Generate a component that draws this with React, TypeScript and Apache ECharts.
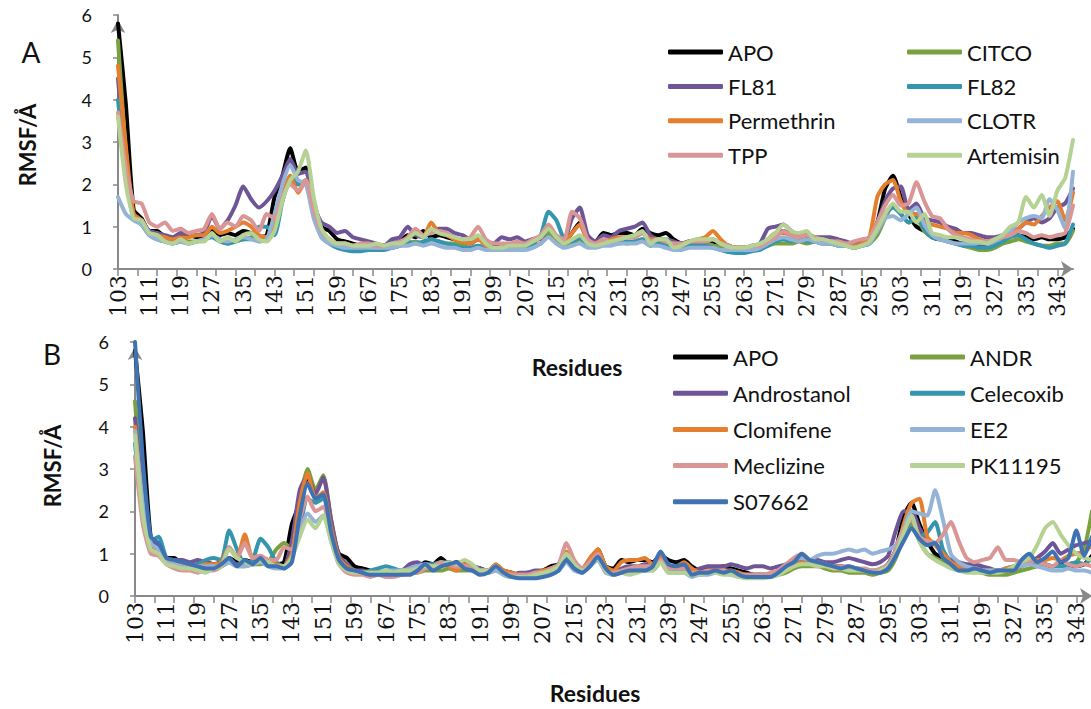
import React, { useEffect, useRef } from "react";
import * as echarts from "echarts";

// Residue range shown on both panels; RMSF is listed on every other residue.
const FIRST_RESIDUE = 103;
const LAST_RESIDUE = 347;
const SAMPLE_STEP = 2;

// ---------- Panel A : RMSF (Å) per sampled residue (103, 105, ... 347) ----------
const apo = [
  5.8, 3.9, 1.4, 1.2, 0.9, 0.9, 0.75, 0.7, 0.75, 0.8,
  0.75, 0.8, 0.9, 0.8, 0.85, 0.8, 0.9, 0.85, 0.75, 0.8,
  1.7, 2.2, 2.85, 2.3, 2.4, 1.6, 1.0, 0.9, 0.7, 0.65,
  0.6, 0.55, 0.55, 0.55, 0.55, 0.6, 0.65, 0.8, 0.75, 0.9,
  0.75, 0.8, 0.75, 0.7, 0.65, 0.6, 0.7, 0.6, 0.55, 0.5,
  0.55, 0.55, 0.6, 0.7, 0.75, 0.9, 0.7, 0.65, 0.85, 1.1,
  0.7, 0.65, 0.85, 0.8, 0.85, 0.85, 0.8, 0.95, 0.85, 0.8,
  0.85, 0.7, 0.6, 0.65, 0.65, 0.7, 0.65, 0.6, 0.55, 0.5,
  0.5, 0.5, 0.55, 0.65, 0.8, 0.9, 0.8, 0.75, 0.75, 0.7,
  0.7, 0.65, 0.6, 0.6, 0.55, 0.6, 0.75, 1.1, 1.9, 2.2,
  1.7, 1.3, 1.0, 0.9, 0.75, 0.7, 0.7, 0.65, 0.6, 0.6,
  0.55, 0.6, 0.65, 0.7, 0.8, 0.8, 0.75, 0.7, 0.75, 0.7,
  0.7, 0.75, 0.95,
];
const citco = [
  5.4, 2.8, 1.2, 1.1, 0.85, 0.75, 0.7, 0.65, 0.7, 0.65,
  0.65, 0.7, 0.8, 0.7, 0.6, 0.65, 0.7, 0.75, 0.65, 0.7,
  1.0, 1.6, 2.1, 2.0, 2.1, 1.4, 0.8, 0.65, 0.55, 0.5,
  0.5, 0.5, 0.5, 0.5, 0.5, 0.5, 0.55, 0.6, 0.65, 0.6,
  0.7, 0.65, 0.6, 0.6, 0.55, 0.5, 0.55, 0.5, 0.45, 0.45,
  0.45, 0.5, 0.5, 0.55, 0.6, 0.85, 0.65, 0.55, 0.6, 0.7,
  0.55, 0.55, 0.6, 0.6, 0.65, 0.6, 0.65, 0.7, 0.55, 0.65,
  0.55, 0.5, 0.5, 0.55, 0.6, 0.6, 0.55, 0.5, 0.45, 0.45,
  0.45, 0.5, 0.5, 0.55, 0.6, 0.6, 0.6, 0.65, 0.6, 0.65,
  0.6, 0.6, 0.55, 0.55, 0.5, 0.55, 0.6, 0.8, 1.2, 1.5,
  1.3, 1.1, 1.2, 0.9, 0.75, 0.7, 0.65, 0.6, 0.55, 0.5,
  0.45, 0.45, 0.5, 0.6, 0.65, 0.7, 0.65, 0.6, 0.55, 0.55,
  0.6, 0.6, 0.9,
];
const fl81 = [
  4.5, 2.5, 1.3, 1.15, 0.9, 0.85, 0.8, 0.75, 0.85, 0.85,
  0.8, 0.85, 1.25, 0.95, 1.15, 1.5, 1.95, 1.65, 1.45, 1.6,
  1.85, 2.2, 2.6, 2.25, 2.3, 1.5, 1.1, 1.0, 0.85, 0.9,
  0.75, 0.7, 0.65, 0.6, 0.55, 0.7, 0.75, 1.0, 0.8, 0.75,
  0.9, 0.95, 0.95, 0.85, 0.8, 0.7, 0.75, 0.65, 0.6, 0.75,
  0.7, 0.75, 0.65, 0.7, 0.7, 1.0, 0.75, 0.7, 1.2, 1.45,
  0.8, 0.65, 0.8, 0.75, 0.9, 0.95, 1.0, 1.1, 0.8, 0.7,
  0.7, 0.65, 0.6, 0.65, 0.65, 0.65, 0.7, 0.6, 0.55, 0.5,
  0.5, 0.55, 0.6, 0.95, 1.0, 1.05, 0.9, 0.8, 0.85, 0.75,
  0.75, 0.75, 0.7, 0.65, 0.6, 0.65, 0.7, 1.1, 1.6, 1.9,
  1.95, 1.4, 1.55, 1.2, 1.15, 1.1, 1.0, 0.95, 0.85, 0.85,
  0.8, 0.75, 0.75, 0.8, 0.85, 0.95, 1.1, 1.2, 1.1, 1.2,
  1.45, 1.55, 1.9,
];
const fl82 = [
  4.0, 2.2, 1.2, 1.05, 0.8, 0.7, 0.65, 0.6, 0.65, 0.6,
  0.65, 0.7, 0.75, 0.65, 0.6, 0.65, 0.7, 0.7, 1.0, 1.0,
  0.8, 1.6, 2.2, 2.0, 2.0, 1.3, 0.75, 0.6, 0.5, 0.45,
  0.42, 0.42, 0.45, 0.45, 0.45, 0.5, 0.55, 0.65, 0.6, 0.65,
  0.7, 0.65, 0.6, 0.55, 0.5, 0.5, 0.55, 0.5, 0.45, 0.45,
  0.45, 0.5, 0.5, 0.6, 0.8, 1.35, 1.15, 0.7, 0.65, 0.75,
  0.55, 0.55, 0.6, 0.6, 0.6, 0.65, 0.65, 0.7, 0.55, 0.6,
  0.55, 0.5, 0.5, 0.55, 0.55, 0.55, 0.5, 0.45, 0.4, 0.38,
  0.38, 0.42, 0.45, 0.55, 0.65, 0.7, 0.65, 0.7, 0.65, 0.65,
  0.6, 0.6, 0.55, 0.55, 0.5, 0.55, 0.6, 0.9, 1.3, 1.45,
  1.3, 1.1, 1.25, 0.95, 0.75, 0.7, 0.65, 0.6, 0.55, 0.55,
  0.5, 0.5, 0.55, 0.65, 0.75, 0.8, 0.7, 0.6, 0.55, 0.5,
  0.55, 0.6, 1.05,
];
const permethrin = [
  4.8, 2.9, 1.3, 1.15, 0.85, 0.8, 0.75, 0.7, 0.75, 0.75,
  0.8, 0.8, 1.0, 0.85, 0.9, 1.0, 1.1, 1.0, 0.8, 0.75,
  1.0, 1.7, 2.2, 1.8, 2.1, 1.4, 0.85, 0.7, 0.6, 0.6,
  0.55, 0.55, 0.55, 0.5, 0.5, 0.55, 0.6, 0.7, 0.9, 0.75,
  1.1, 0.85, 0.8, 0.7, 0.65, 0.6, 0.7, 0.55, 0.5, 0.5,
  0.55, 0.55, 0.6, 0.65, 0.75, 1.0, 0.75, 0.65, 0.85, 1.05,
  0.65, 0.6, 0.65, 0.7, 0.75, 0.75, 0.8, 0.85, 0.7, 0.7,
  0.65, 0.6, 0.55, 0.65, 0.7, 0.75, 0.9, 0.7, 0.55, 0.5,
  0.5, 0.5, 0.55, 0.7, 0.85, 0.85, 0.8, 0.75, 0.8, 0.7,
  0.7, 0.65, 0.65, 0.6, 0.55, 0.6, 0.75, 1.7, 2.0, 2.1,
  1.6, 1.3, 1.3, 1.1, 1.05, 1.0, 0.95, 0.85, 0.85, 0.8,
  0.7, 0.65, 0.7, 0.75, 0.85, 0.95, 1.1, 1.05, 1.25, 1.45,
  1.6, 1.15, 1.8,
];
const clotr = [
  1.7, 1.3, 1.15, 1.05, 0.8, 0.7, 0.65, 0.6, 0.65, 0.6,
  0.65, 0.7, 0.8, 0.7, 0.65, 0.7, 0.75, 0.7, 0.65, 0.7,
  1.3, 2.0, 2.45, 2.1, 2.0, 1.2, 0.75, 0.6, 0.55, 0.5,
  0.5, 0.5, 0.5, 0.5, 0.5, 0.5, 0.55, 0.55, 0.6, 0.55,
  0.6, 0.55, 0.5, 0.5, 0.45, 0.45, 0.5, 0.45, 0.45, 0.45,
  0.45, 0.45, 0.45, 0.5, 0.6, 0.75, 0.6, 0.5, 0.55, 0.6,
  0.5, 0.5, 0.55, 0.55, 0.6, 0.6, 0.6, 0.65, 0.55, 0.55,
  0.5, 0.45, 0.45, 0.5, 0.5, 0.5, 0.5, 0.45, 0.45, 0.45,
  0.45, 0.45, 0.5, 0.6, 0.7, 0.75, 0.7, 0.65, 0.7, 0.65,
  0.6, 0.6, 0.55, 0.55, 0.5, 0.55, 0.6, 0.9, 1.2, 1.25,
  1.15, 1.3, 1.45, 1.05, 0.8, 0.7, 0.65, 0.6, 0.6, 0.6,
  0.6, 0.6, 0.65, 0.75, 0.9, 1.1, 1.2, 1.25, 1.2, 1.65,
  1.4, 0.95, 2.3,
];
const tpp = [
  3.7, 2.4, 1.6, 1.55, 1.1, 1.0, 1.1, 0.9, 0.95, 0.85,
  0.9, 0.95, 1.3, 0.95, 1.1, 1.0, 1.25, 1.15, 0.9, 1.3,
  1.2, 1.7, 2.0, 1.85, 2.1, 1.4, 0.9, 0.7, 0.6, 0.6,
  0.55, 0.6, 0.6, 0.55, 0.55, 0.6, 0.65, 0.75, 0.95, 0.8,
  0.85, 0.9, 0.85, 0.75, 0.7, 0.75, 1.0, 0.7, 0.6, 0.6,
  0.6, 0.65, 0.6, 0.7, 0.8, 1.05, 0.8, 0.7, 1.35, 1.2,
  0.7, 0.6, 0.7, 0.65, 0.7, 0.75, 0.75, 0.85, 0.65, 0.7,
  0.65, 0.6, 0.6, 0.65, 0.65, 0.65, 0.7, 0.6, 0.55, 0.5,
  0.5, 0.55, 0.55, 0.65, 0.75, 0.9, 0.8, 0.75, 0.8, 0.75,
  0.7, 0.65, 0.65, 0.6, 0.65, 0.7, 0.75, 1.1, 1.5, 1.75,
  1.5, 1.55, 2.05, 1.6, 1.25, 1.2, 0.95, 0.8, 0.75, 0.7,
  0.65, 0.65, 0.7, 0.75, 0.8, 0.9, 0.85, 0.75, 0.8, 0.75,
  0.8, 0.85, 1.5,
];
const artemisin = [
  3.6, 2.0, 1.2, 1.15, 0.85, 0.8, 0.65, 0.6, 0.7, 0.6,
  0.65, 0.65, 0.85, 0.65, 0.75, 0.65, 0.8, 0.85, 0.7, 0.65,
  0.9, 1.6, 2.1, 2.3, 2.8, 1.7, 0.95, 0.7, 0.6, 0.6,
  0.55, 0.55, 0.55, 0.6, 0.55, 0.6, 0.6, 0.7, 0.85, 0.75,
  0.95, 0.85, 0.8, 0.75, 0.7, 0.7, 0.8, 0.6, 0.5, 0.5,
  0.55, 0.55, 0.55, 0.65, 0.75, 0.95, 0.75, 0.6, 0.7, 0.8,
  0.6, 0.55, 0.6, 0.65, 0.7, 0.75, 0.8, 0.9, 0.6, 0.7,
  0.7, 0.5, 0.55, 0.65, 0.7, 0.7, 0.7, 0.6, 0.52, 0.5,
  0.5, 0.55, 0.6, 0.7, 0.85, 1.05, 0.9, 0.85, 0.9, 0.7,
  0.7, 0.65, 0.6, 0.55, 0.5, 0.55, 0.65, 0.95, 1.3, 1.55,
  1.35, 1.35, 1.1, 1.3, 0.85, 0.8, 0.75, 0.75, 0.7, 0.65,
  0.65, 0.6, 0.7, 0.8, 1.0, 1.1, 1.7, 1.45, 1.75, 1.25,
  1.85, 2.15, 3.05,
];

// ---------- Panel B : RMSF (Å) per sampled residue (APO is shared) ----------
const andr = [
  4.6, 2.3, 1.2, 1.1, 0.85, 0.75, 0.7, 0.65, 0.6, 0.6,
  0.65, 0.7, 0.8, 0.7, 0.7, 0.75, 0.75, 0.8, 1.1, 1.25,
  1.1, 2.2, 3.0, 2.5, 2.85, 1.8, 0.9, 0.7, 0.6, 0.55,
  0.55, 0.5, 0.5, 0.5, 0.5, 0.55, 0.55, 0.6, 0.6, 0.6,
  0.65, 0.6, 0.6, 0.6, 0.55, 0.55, 0.6, 0.5, 0.45, 0.45,
  0.45, 0.5, 0.5, 0.55, 0.6, 0.85, 0.65, 0.55, 0.75, 0.9,
  0.6, 0.5, 0.55, 0.55, 0.6, 0.6, 0.65, 0.85, 0.6, 0.6,
  0.6, 0.5, 0.5, 0.55, 0.55, 0.55, 0.55, 0.5, 0.45, 0.45,
  0.45, 0.45, 0.5, 0.55, 0.65, 0.7, 0.7, 0.7, 0.65, 0.6,
  0.6, 0.55, 0.55, 0.55, 0.5, 0.55, 0.6, 0.9, 1.4, 1.7,
  1.3, 1.0, 0.9, 0.8, 0.7, 0.65, 0.6, 0.6, 0.55, 0.5,
  0.5, 0.5, 0.55, 0.6, 0.65, 0.7, 0.75, 0.7, 0.7, 0.75,
  0.8, 1.1, 2.0,
];
const androstanol = [
  4.2, 2.4, 1.3, 1.2, 0.9, 0.85, 0.85, 0.8, 0.85, 0.8,
  0.75, 0.75, 0.85, 0.75, 0.8, 0.75, 0.85, 0.75, 0.7, 0.7,
  1.3, 2.5, 2.85, 2.4, 2.8, 1.8, 0.95, 0.75, 0.6, 0.6,
  0.55, 0.55, 0.55, 0.6, 0.6, 0.75, 0.8, 0.7, 0.7, 0.75,
  0.8, 0.7, 0.7, 0.7, 0.65, 0.6, 0.7, 0.55, 0.5, 0.55,
  0.55, 0.6, 0.6, 0.6, 0.65, 0.85, 0.7, 0.6, 0.8, 0.9,
  0.6, 0.55, 0.65, 0.7, 0.7, 0.75, 0.7, 0.9, 0.7, 0.7,
  0.7, 0.6, 0.65, 0.7, 0.7, 0.7, 0.75, 0.7, 0.65, 0.7,
  0.7, 0.65, 0.7, 0.75, 0.85, 0.85, 0.85, 0.85, 0.8, 0.8,
  0.85, 0.9, 0.85, 0.8, 0.75, 0.8, 0.95, 1.55, 2.0, 2.0,
  1.6, 1.3, 1.25, 1.0, 0.85, 0.8, 0.75, 0.75, 0.7, 0.65,
  0.6, 0.6, 0.65, 0.75, 0.8, 0.9, 1.05, 1.25, 1.0, 1.1,
  1.2, 1.25, 1.3,
];
const celecoxib = [
  3.6, 2.0, 1.3, 1.4, 0.9, 0.8, 0.75, 0.7, 0.75, 0.85,
  0.9, 0.85, 1.55, 1.1, 0.75, 0.85, 1.35, 1.15, 0.8, 0.7,
  0.9, 1.6, 2.3, 2.2, 2.3, 1.5, 0.85, 0.65, 0.6, 0.55,
  0.6, 0.65, 0.7, 0.65, 0.6, 0.65, 0.7, 0.75, 0.75, 0.8,
  0.8, 0.75, 0.7, 0.7, 0.6, 0.6, 0.7, 0.55, 0.5, 0.5,
  0.5, 0.55, 0.55, 0.6, 0.65, 0.9, 0.7, 0.6, 0.75, 0.95,
  0.6, 0.5, 0.6, 0.6, 0.65, 0.65, 0.65, 0.9, 0.65, 0.6,
  0.6, 0.5, 0.55, 0.55, 0.6, 0.6, 0.55, 0.5, 0.5, 0.5,
  0.5, 0.5, 0.55, 0.65, 0.75, 0.8, 0.8, 0.75, 0.7, 0.7,
  0.65, 0.65, 0.65, 0.6, 0.6, 0.6, 0.75, 1.0, 1.5, 1.8,
  1.4, 1.5, 1.75, 1.1, 0.8, 0.7, 0.6, 0.65, 0.6, 0.6,
  0.6, 0.65, 0.7, 0.75, 0.85, 0.8, 0.75, 0.7, 0.7, 0.75,
  0.8, 0.75, 0.9,
];
const clomifene = [
  4.0, 2.2, 1.2, 1.1, 0.85, 0.8, 0.75, 0.7, 0.7, 0.75,
  0.75, 0.8, 1.15, 0.9, 1.45, 0.9, 0.9, 0.85, 0.75, 0.7,
  1.0, 2.2, 2.9, 2.3, 2.45, 1.6, 0.9, 0.7, 0.6, 0.55,
  0.55, 0.55, 0.55, 0.55, 0.55, 0.6, 0.65, 0.7, 0.65, 0.75,
  0.7, 0.6, 0.75, 0.7, 0.6, 0.6, 0.75, 0.6, 0.55, 0.5,
  0.5, 0.55, 0.6, 0.65, 0.7, 1.05, 0.8, 0.65, 0.9, 1.1,
  0.7, 0.6, 0.8, 0.85, 0.85, 0.9, 0.75, 0.95, 0.7, 0.7,
  0.8, 0.65, 0.55, 0.6, 0.6, 0.6, 0.6, 0.55, 0.5, 0.5,
  0.5, 0.5, 0.55, 0.6, 0.7, 0.8, 0.75, 0.75, 0.7, 0.65,
  0.65, 0.65, 0.6, 0.6, 0.55, 0.6, 0.7, 1.0, 1.7, 2.2,
  2.3, 1.4, 1.2, 1.0, 0.8, 0.7, 0.65, 0.65, 0.6, 0.6,
  0.6, 0.65, 0.7, 0.75, 0.8, 0.85, 0.85, 0.9, 0.85, 0.95,
  1.0, 1.05, 1.2,
];
const ee2 = [
  3.9, 2.2, 1.25, 1.1, 0.8, 0.75, 0.7, 0.65, 0.7, 0.7,
  0.7, 0.7, 0.8, 0.7, 0.7, 0.75, 0.8, 0.7, 0.65, 0.65,
  0.9, 1.5, 1.95, 1.75, 1.9, 1.3, 0.75, 0.6, 0.55, 0.55,
  0.55, 0.55, 0.6, 0.6, 0.6, 0.65, 0.7, 0.75, 0.7, 0.8,
  0.75, 0.7, 0.7, 0.65, 0.55, 0.55, 0.6, 0.5, 0.45, 0.45,
  0.45, 0.5, 0.5, 0.55, 0.6, 0.8, 0.6, 0.55, 0.7, 0.85,
  0.55, 0.5, 0.55, 0.55, 0.6, 0.6, 0.6, 0.8, 0.55, 0.55,
  0.55, 0.45, 0.5, 0.5, 0.55, 0.55, 0.5, 0.45, 0.45, 0.45,
  0.45, 0.5, 0.6, 0.75, 0.85, 0.9, 0.85, 0.95, 1.0, 1.0,
  1.05, 1.1, 1.05, 1.1, 1.0, 1.05, 1.1, 1.2, 1.6, 2.0,
  1.95, 1.9, 2.5, 1.8, 1.0, 0.8, 0.7, 0.65, 0.6, 0.6,
  0.6, 0.6, 0.65, 0.7, 0.75, 0.7, 0.65, 0.6, 0.6, 0.65,
  0.6, 0.6, 0.55,
];
const meclizine = [
  3.3, 1.7, 1.0, 0.95, 0.75, 0.65, 0.6, 0.6, 0.55, 0.6,
  0.6, 0.7, 1.15, 0.9, 1.25, 0.9, 0.95, 0.85, 0.85, 1.15,
  1.1, 1.8, 2.35, 2.0, 2.1, 1.4, 0.75, 0.55, 0.5, 0.5,
  0.45, 0.5, 0.45, 0.45, 0.5, 0.55, 0.55, 0.65, 0.7, 0.8,
  0.75, 0.7, 0.7, 0.65, 0.6, 0.6, 0.7, 0.55, 0.5, 0.5,
  0.5, 0.55, 0.55, 0.65, 0.75, 1.25, 0.85, 0.65, 0.8, 1.0,
  0.6, 0.55, 0.6, 0.65, 0.7, 0.7, 0.7, 0.85, 0.65, 0.65,
  0.65, 0.55, 0.55, 0.6, 0.6, 0.6, 0.55, 0.5, 0.5, 0.5,
  0.5, 0.55, 0.6, 0.75, 0.9, 1.0, 0.85, 0.8, 0.75, 0.7,
  0.7, 0.7, 0.65, 0.65, 0.6, 0.65, 0.75, 1.1, 1.6, 1.8,
  1.4, 1.3, 1.25, 1.45, 1.75, 1.3, 0.9, 0.8, 0.85, 0.9,
  1.15, 0.85, 0.85, 0.8, 0.85, 0.8, 0.75, 0.7, 0.85, 0.75,
  0.7, 0.75, 0.7,
];
const pk11195 = [
  3.8, 1.9, 1.1, 1.0, 0.75, 0.7, 0.65, 0.65, 0.6, 0.55,
  0.65, 0.7, 1.1, 0.9, 0.8, 0.75, 0.85, 0.8, 0.7, 0.7,
  0.9, 1.4, 1.8, 1.6, 1.9, 1.3, 0.75, 0.6, 0.55, 0.55,
  0.55, 0.55, 0.6, 0.55, 0.6, 0.6, 0.65, 0.7, 0.7, 0.7,
  0.8, 0.75, 0.85, 0.75, 0.6, 0.6, 0.7, 0.55, 0.45, 0.45,
  0.45, 0.5, 0.55, 0.6, 0.7, 1.0, 0.75, 0.6, 0.7, 0.9,
  0.6, 0.5, 0.55, 0.5, 0.55, 0.6, 0.6, 0.8, 0.55, 0.55,
  0.55, 0.5, 0.5, 0.55, 0.55, 0.5, 0.5, 0.45, 0.42, 0.42,
  0.42, 0.45, 0.5, 0.6, 0.7, 0.75, 0.75, 0.7, 0.7, 0.65,
  0.65, 0.6, 0.6, 0.6, 0.55, 0.6, 0.7, 1.0, 1.5, 1.9,
  1.3, 1.0, 0.85, 0.75, 0.65, 0.6, 0.55, 0.55, 0.55, 0.55,
  0.55, 0.6, 0.7, 0.8, 0.9, 1.2, 1.6, 1.75, 1.45, 1.2,
  1.0, 0.9, 0.85,
];
const s07662 = [
  6.0, 3.2, 1.4, 1.25, 0.9, 0.85, 0.8, 0.75, 0.7, 0.65,
  0.65, 0.75, 0.9, 0.7, 0.85, 0.75, 0.9, 0.7, 0.7, 0.65,
  0.8, 1.9, 2.65, 2.3, 2.4, 1.5, 0.85, 0.65, 0.6, 0.55,
  0.5, 0.5, 0.5, 0.5, 0.5, 0.5, 0.6, 0.75, 0.6, 0.7,
  0.75, 0.8, 0.65, 0.6, 0.5, 0.55, 0.7, 0.55, 0.45, 0.42,
  0.42, 0.42, 0.45, 0.5, 0.6, 0.85, 0.65, 0.55, 0.7, 0.93,
  0.65, 0.5, 0.55, 0.6, 0.6, 0.6, 0.7, 1.05, 0.75, 0.7,
  0.75, 0.5, 0.55, 0.55, 0.6, 0.55, 0.6, 0.5, 0.45, 0.45,
  0.45, 0.45, 0.55, 0.7, 0.8, 1.0, 0.85, 0.8, 0.75, 0.7,
  0.65, 0.7, 0.65, 0.6, 0.55, 0.55, 0.65, 0.95, 1.3, 1.6,
  1.35, 1.2, 1.25, 0.9, 0.75, 0.6, 0.6, 0.65, 0.6, 0.55,
  0.6, 0.6, 0.6, 0.85, 1.0, 0.8, 0.9, 1.05, 0.8, 0.9,
  1.55, 0.95, 1.4,
];

// Legend columns (row order as laid out in each panel)
const legendA1 = ["APO", "FL81", "Permethrin", "TPP"];
const legendA2 = ["CITCO", "FL82", "CLOTR", "Artemisin"];
const legendB1 = ["APO", "Androstanol", "Clomifene", "Meclizine", "S07662"];
const legendB2 = ["ANDR", "Celecoxib", "EE2", "PK11195"];

const yTicks = [0, 1, 2, 3, 4, 5, 6];

const COLORS = {
  black: "#000000",
  green: "#79A13E",
  purple: "#6E5597",
  teal: "#3496AE",
  orange: "#E57F2E",
  lightBlue: "#95B3D7",
  pink: "#D99694",
  lightGreen: "#B5D294",
  blue: "#3E72B2",
};

const SANS = "Lato, 'Noto Sans', sans-serif";
const SERIF = "'DejaVu Serif', 'Liberation Serif', serif";
const AXIS_GREY = "#898989";

const residues: string[] = [];
for (let r = FIRST_RESIDUE; r <= LAST_RESIDUE; r++) residues.push(String(r));

const toPoints = (values: number[]) => values.map((v, i) => [i * SAMPLE_STEP, v]);

const lineSeries = (name: string, values: number[], color: string, panel: number) => ({
  type: "line",
  name,
  xAxisIndex: panel,
  yAxisIndex: panel,
  data: toPoints(values),
  symbol: "none",
  showSymbol: false,
  smooth: 0.2,
  silent: true,
  lineStyle: { color, width: 4, cap: "round", join: "round" },
  itemStyle: { color },
  emphasis: { disabled: true },
});

const xAxisFor = (panel: number) => ({
  type: "category",
  gridIndex: panel,
  data: residues,
  boundaryGap: false,
  axisLine: {
    show: true,
    lineStyle: { color: AXIS_GREY, width: 2 },
    symbol: ["none", "arrow"],
    symbolSize: [12, 12],
  },
  axisTick: {
    show: true,
    interval: 4,
    length: 7,
    lineStyle: { color: AXIS_GREY, width: 1.5 },
  },
  axisLabel: {
    interval: 7,
    rotate: 90,
    margin: 6,
    color: "#111",
    fontFamily: SERIF,
    fontSize: 22,
  },
  splitLine: { show: false },
});

const yAxisFor = (panel: number) => ({
  type: "value",
  gridIndex: panel,
  min: yTicks[0],
  max: yTicks[yTicks.length - 1],
  interval: 1,
  axisLine: {
    show: true,
    lineStyle: { color: AXIS_GREY, width: 2 },
    symbol: ["none", "arrow"],
    symbolSize: [11, 13],
    symbolOffset: [0, -5],
  },
  axisTick: { show: true, length: 5, lineStyle: { color: AXIS_GREY, width: 1.5 } },
  axisLabel: { margin: 26, color: "#111", fontFamily: SANS, fontSize: 18 },
  splitLine: { show: false },
});

const legendColumn = (names: string[], left: number, top: number, gap: number) => ({
  orient: "vertical",
  left,
  top,
  padding: 0,
  itemWidth: 55,
  itemHeight: 5,
  itemGap: gap,
  icon: "roundRect",
  selectedMode: false,
  data: names,
  textStyle: { fontFamily: SANS, fontSize: 22, lineHeight: 22, color: "#111", padding: [0, 0, 0, 0] },
});

const label = (text: string, x: number, y: number, size: number, bold: boolean, rotated = false) => ({
  type: "text",
  x,
  y,
  rotation: rotated ? Math.PI / 2 : 0,
  silent: true,
  style: {
    text,
    fill: "#111",
    font: `${bold ? "bold " : ""}${size}px ${SANS}`,
    textAlign: "center",
    textVerticalAlign: "middle",
    align: "center",
    verticalAlign: "middle",
  },
});

function buildOption() {
  return {
    animation: false,
    backgroundColor: "#ffffff",
    grid: [
      { left: 118, top: 15, width: 955, height: 254, outerBoundsMode: "none", containLabel: false },
      { left: 135, top: 342, width: 957, height: 254, outerBoundsMode: "none", containLabel: false },
    ],
    xAxis: [xAxisFor(0), xAxisFor(1)],
    yAxis: [yAxisFor(0), yAxisFor(1)],
    legend: [
      legendColumn(legendA1, 668, 41, 12.4),
      legendColumn(legendA2, 907, 41, 12.4),
      legendColumn(legendB1, 673, 346, 14.2),
      legendColumn(legendB2, 910, 346, 14.2),
    ],
    graphic: [
      label("A", 31, 52, 28, false),
      label("B", 52, 354, 28, false),
      label("RMSF/Å", 27, 145, 22, true, true),
      label("RMSF/Å", 52, 466, 22, true, true),
      label("Residues", 577, 367, 23, true),
      label("Residues", 595, 693, 23, true),
    ],
    series: [
      lineSeries("APO", apo, COLORS.black, 0),
      lineSeries("CITCO", citco, COLORS.green, 0),
      lineSeries("FL81", fl81, COLORS.purple, 0),
      lineSeries("FL82", fl82, COLORS.teal, 0),
      lineSeries("Permethrin", permethrin, COLORS.orange, 0),
      lineSeries("CLOTR", clotr, COLORS.lightBlue, 0),
      lineSeries("TPP", tpp, COLORS.pink, 0),
      lineSeries("Artemisin", artemisin, COLORS.lightGreen, 0),
      lineSeries("APO", apo, COLORS.black, 1),
      lineSeries("ANDR", andr, COLORS.green, 1),
      lineSeries("Androstanol", androstanol, COLORS.purple, 1),
      lineSeries("Celecoxib", celecoxib, COLORS.teal, 1),
      lineSeries("Clomifene", clomifene, COLORS.orange, 1),
      lineSeries("EE2", ee2, COLORS.lightBlue, 1),
      lineSeries("Meclizine", meclizine, COLORS.pink, 1),
      lineSeries("PK11195", pk11195, COLORS.lightGreen, 1),
      lineSeries("S07662", s07662, COLORS.blue, 1),
    ],
  };
}

export default function App() {
  const ref = useRef<HTMLDivElement>(null);

  useEffect(() => {
    if (!ref.current) return;
    const chart = echarts.init(ref.current, undefined, { renderer: "svg" });
    chart.setOption(buildOption() as any);
    return () => chart.dispose();
  }, []);

  return (
    <div
      ref={ref}
      style={{ position: "absolute", left: 0, top: 0, width: 1091, height: 709, background: "#fff" }}
    />
  );
}
